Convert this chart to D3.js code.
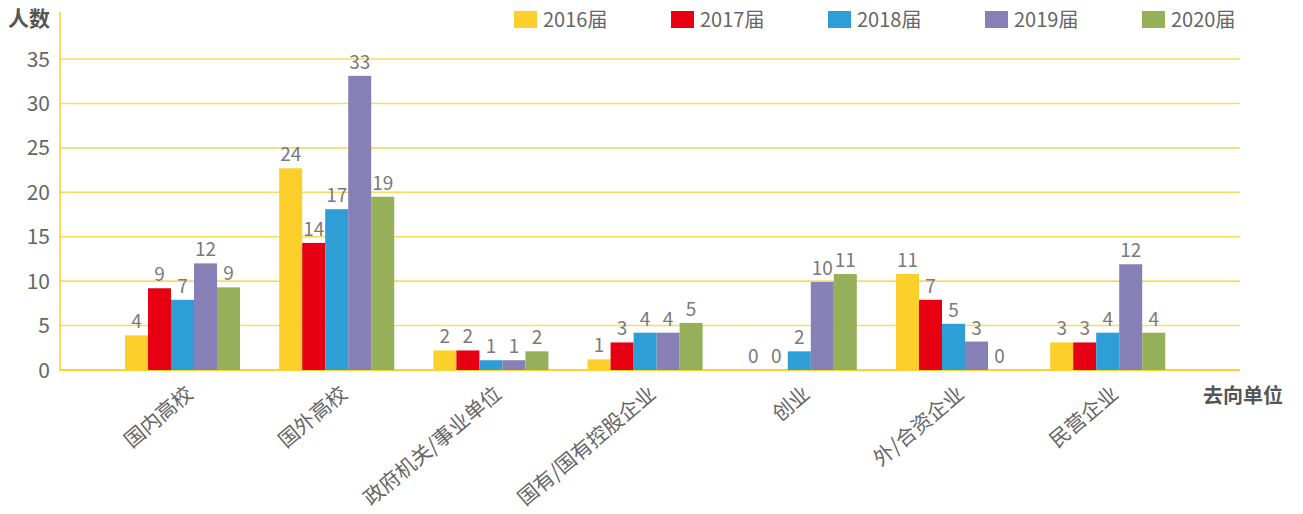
<!DOCTYPE html>
<html>
<head>
<meta charset="utf-8">
<script src="https://cdn.jsdelivr.net/npm/d3@7"></script>
<style>
  body { margin: 0; background: #fff; }
  svg text { font-family: "Noto Sans CJK SC", "Noto Sans", sans-serif; }
</style>
</head>
<body>
<div class="chart"></div>
<script>
// categories and series
var categories = ["国内高校", "国外高校", "政府机关/事业单位", "国有/国有控股企业", "创业", "外/合资企业", "民营企业"];
var series = ["2016届", "2017届", "2018届", "2019届", "2020届"];
var colors = ["#FDCF2A", "#E60012", "#2E9ED6", "#8680B6", "#96B05A"];

// bar heights as drawn in the picture (one array per series)
var v2016 = [3.9, 22.7, 2.2, 1.2, 0, 10.8, 3.1];
var v2017 = [9.2, 14.3, 2.2, 3.1, 0, 7.9, 3.1];
var v2018 = [7.9, 18.1, 1.1, 4.2, 2.1, 5.2, 4.2];
var v2019 = [12.0, 33.1, 1.1, 4.2, 9.9, 3.2, 11.9];
var v2020 = [9.3, 19.5, 2.1, 5.3, 10.8, 0, 4.2];

// value labels printed above the bars
var t2016 = ["4", "24", "2", "1", "0", "11", "3"];
var t2017 = ["9", "14", "2", "3", "0", "7", "3"];
var t2018 = ["7", "17", "1", "4", "2", "5", "4"];
var t2019 = ["12", "33", "1", "4", "10", "3", "12"];
var t2020 = ["9", "19", "2", "5", "11", "0", "4"];

var yTicks = [0, 5, 10, 15, 20, 25, 30, 35];

var values = [v2016, v2017, v2018, v2019, v2020];
var labels = [t2016, t2017, t2018, t2019, t2020];

var width = 1303, height = 514;

var svg = d3.select(".chart").append("svg")
    .attr("width", width)
    .attr("height", height);

var y = d3.scaleLinear().domain([0, 35]).range([370, 59]);

var x0 = d3.scaleBand()
    .domain(categories)
    .range([105.4, 1184.8])
    .paddingInner(0.254)
    .paddingOuter(0.127);

var x1 = d3.scaleBand()
    .domain(series)
    .range([0, x0.bandwidth()]);

// grid lines
svg.append("g").selectAll("line")
    .data(yTicks)
    .enter().append("line")
    .attr("x1", 60).attr("x2", 1240)
    .attr("y1", function(t){ return y(t); })
    .attr("y2", function(t){ return y(t); })
    .attr("stroke", function(t){ return t === 0 ? "#FDD233" : "#FCDA5E"; })
    .attr("stroke-width", function(t){ return t === 0 ? 2 : 1.6; });

// y axis line
svg.append("line")
    .attr("x1", 60).attr("x2", 60)
    .attr("y1", 12).attr("y2", 371)
    .attr("stroke", "#FDCF2A")
    .attr("stroke-width", 1.5);

// y tick labels
svg.append("g").selectAll("text")
    .data(yTicks)
    .enter().append("text")
    .attr("x", 50)
    .attr("y", function(t){ return y(t); })
    .attr("dy", "0.36em")
    .attr("text-anchor", "end")
    .attr("font-size", 21)
    .attr("fill", "#666")
    .text(function(t){ return t; });

svg.append("text")
    .attr("x", 8).attr("y", 26)
    .attr("font-size", 21)
    .attr("font-weight", "bold")
    .attr("fill", "#555")
    .text("人数");

svg.append("text")
    .attr("x", 1203).attr("y", 403)
    .attr("font-size", 20)
    .attr("font-weight", "bold")
    .attr("fill", "#555")
    .text("去向单位");

// bars
var groups = svg.append("g").selectAll("g")
    .data(series)
    .enter().append("g")
    .attr("fill", function(s, i){ return colors[i]; });

groups.each(function(s, si){
    var g = d3.select(this);
    g.selectAll("rect")
        .data(values[si])
        .enter().append("rect")
        .attr("x", function(v, ci){ return x0(categories[ci]) + x1(s); })
        .attr("width", x1.bandwidth())
        .attr("y", function(v){ return y(v); })
        .attr("height", function(v){ return y(0) - y(v); });

    g.selectAll("text")
        .data(labels[si])
        .enter().append("text")
        .attr("x", function(t, ci){ return x0(categories[ci]) + x1(s) + x1.bandwidth() / 2; })
        .attr("y", function(t, ci){ return y(values[si][ci]) - 7; })
        .attr("text-anchor", "middle")
        .attr("font-size", 19)
        .attr("fill", "#7a7a7a")
        .text(function(t){ return t; });
});

// category labels (tilted about 40 degrees)
svg.append("g").selectAll("text")
    .data(categories)
    .enter().append("text")
    .attr("transform", function(c){
        return "translate(" + (x0(c) + x0.bandwidth() / 2 + 12) + ",396) rotate(-40)";
    })
    .attr("text-anchor", "end")
    .attr("font-size", 20.5)
    .attr("fill", "#666")
    .text(function(c){ return c; });

// legend
var legend = svg.append("g").selectAll("g")
    .data(series)
    .enter().append("g")
    .attr("transform", function(s, i){ return "translate(" + (514 + i * 157) + ",11)"; });

legend.append("rect")
    .attr("width", 23).attr("height", 17)
    .attr("fill", function(s, i){ return colors[i]; });

legend.append("text")
    .attr("x", 29).attr("y", 16)
    .attr("font-size", 20)
    .attr("fill", "#666")
    .text(function(s){ return s; });
</script>
</body>
</html>
